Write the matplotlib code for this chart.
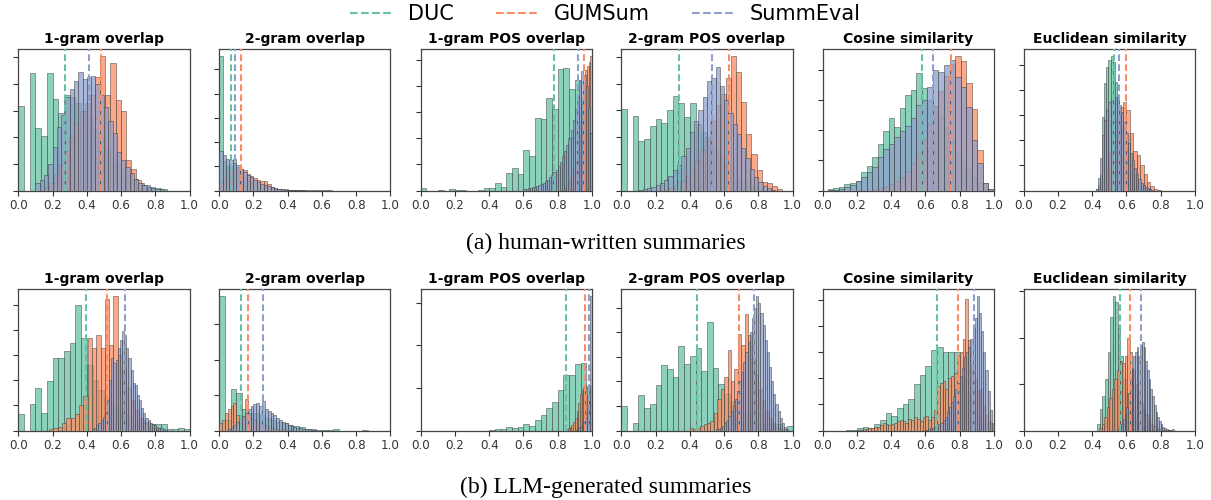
import matplotlib
matplotlib.use("Agg")
import matplotlib.pyplot as plt
from matplotlib.lines import Line2D
from matplotlib.ticker import MultipleLocator

# ---------------- data (bar heights in y-tick units) ----------------
titles = ["1-gram overlap", "2-gram overlap", "1-gram POS overlap",
          "2-gram POS overlap", "Cosine similarity", "Euclidean similarity"]
series_names = ["DUC", "GUMSum", "SummEval"]
row_captions = ["(a) human-written summaries", "(b) LLM-generated summaries"]
xtick_values = [0.0, 0.2, 0.4, 0.6, 0.8, 1.0]

# ---- human-written: (bin start, bin width, heights) ----
h_1g_duc_start, h_1g_duc_w = 0.0, 1 / 30
h_1g_duc = [3.17, 0, 4.41, 2.36, 2.04, 4.41, 3.43, 2.9, 3.6, 3.5, 3.3, 3.0, 2.7, 2.3, 2.0,
            1.6, 1.3, 1.0, 0.8, 0.6, 0.45, 0.3, 0.2, 0.15, 0.1, 0.05]
h_1g_gum_start, h_1g_gum_w = 0.148, 0.03
h_1g_gum = [0.1, 0.3, 0.6, 1.0, 1.5, 2.0, 2.5, 3.0, 3.3, 3.6, 4.26, 5.06, 3.6, 4.79, 3.4,
            3.0, 1.13, 0.8, 0.4, 0.2, 0.05]
h_1g_sum_start, h_1g_sum_w = 0.1, 0.025
h_1g_sum = [0.28, 0.38, 0.57, 1.0, 1.64, 2.4, 2.83, 3.5, 3.8, 4.1, 4.45, 4.2, 4.25, 4.3, 4.0,
            3.6, 3.15, 2.6, 2.15, 1.45, 1.15, 0.9, 0.65, 0.45, 0.3, 0.2, 0.15, 0.1, 0.06, 0.04]

h_2g_duc_start, h_2g_duc_w = 0.0, 0.02
h_2g_duc = [5.56, 1.2, 1.0, 1.0, 1.32, 0.9, 0.7, 0.55, 0.45, 0.35, 0.3, 0.22, 0.18, 0.14, 0.1,
            0.08, 0.06, 0.05, 0.04, 0.03, 0.03, 0.02, 0.02, 0.02, 0.01, 0.01, 0.01, 0.01, 0.01,
            0.01, 0.01, 0.01, 0.01]
h_2g_gum_start, h_2g_gum_w = 0.0, 0.02
h_2g_gum = [0.3, 0.55, 0.8, 0.95, 1.0, 0.95, 0.9, 0.85, 0.7, 0.6, 0.5, 0.45, 0.4, 0.38, 0.25,
            0.15, 0.1, 0.08, 0.06, 0.05, 0.04, 0.03, 0.02, 0.02, 0.01]
h_2g_sum_start, h_2g_sum_w = 0.0, 0.02
h_2g_sum = [1.64, 1.46, 1.32, 1.25, 1.14, 1.04, 0.9, 0.76, 0.62, 0.55, 0.44, 0.35, 0.28, 0.21,
            0.17, 0.13, 0.1, 0.07, 0.05, 0.04, 0.03, 0.02, 0.02, 0.01, 0.01]

h_1p_duc_start, h_1p_duc_w = 0.0, 1 / 30
h_1p_duc = [0.09, 0, 0, 0.03, 0, 0.04, 0.02, 0.02, 0, 0, 0.03, 0.1, 0.1, 0.3, 0.15, 0.67,
            0.86, 0.64, 1.54, 1.32, 2.78, 2.73, 3.55, 3.12, 4.65, 4.68, 3.88, 4.23, 3.5, 2.2]
h_1p_gum_start, h_1p_gum_w = 0.82, 0.01
h_1p_gum = [0.05, 0.1, 0.15, 0.2, 0.3, 0.45, 0.6, 0.8, 1.1, 1.5, 2.0, 2.6, 3.3, 4.0, 4.6,
            4.74, 4.9, 5.15]
h_1p_sum_start, h_1p_sum_w = 0.6, 0.0125
h_1p_sum = [0.05, 0.05, 0.08, 0.1, 0.12, 0.15, 0.18, 0.2, 0.25, 0.3, 0.35, 0.4, 0.5, 0.6, 0.7,
            0.8, 0.95, 1.1, 1.3, 1.5, 1.75, 2.0, 2.3, 2.7, 3.1, 3.6, 4.2, 4.58, 4.4, 4.0, 3.2, 2.2]

h_2p_duc_start, h_2p_duc_w = 0.0, 1 / 30
h_2p_duc = [3.04, 0, 2.78, 1.84, 1.92, 2.43, 2.68, 2.53, 3.0, 3.54, 3.27, 2.76, 3.27, 2.5, 2.2,
            1.9, 1.6, 1.3, 1.0, 0.75, 0.5, 0.35, 0.2, 0.12, 0.07, 0.03, 0.02]
h_2p_gum_start, h_2p_gum_w = 0.25, 0.03
h_2p_gum = [0.05, 0.1, 0.2, 0.35, 0.55, 0.8, 1.1, 1.5, 2.0, 2.6, 3.2, 3.6, 4.2, 5.05, 4.45,
            3.3, 2.1, 1.35, 0.76, 0.32, 0.28, 0.15, 0.05]
h_2p_sum_start, h_2p_sum_w = 0.1, 0.025
h_2p_sum = [0.03, 0.05, 0.08, 0.12, 0.2, 0.28, 0.4, 0.55, 0.75, 0.95, 1.3, 1.6, 2.2, 2.6, 3.0,
            3.5, 4.1, 4.2, 4.62, 3.9, 3.4, 2.9, 2.5, 2.1, 1.6, 1.2, 0.8, 0.5, 0.3, 0.15, 0.08, 0.03]

h_cos_duc_start, h_cos_duc_w = 0.03, 0.0323
h_cos_duc = [0.04, 0.07, 0.1, 0.2, 0.24, 0.3, 0.61, 0.8, 1.1, 1.55, 1.98, 2.42, 2.1, 2.75, 3.17,
             3.35, 3.91, 3.39, 3.0, 2.8, 2.5, 2.1, 1.7, 1.3, 1.0, 0.7, 0.45, 0.25, 0.1, 0.04]
h_cos_gum_start, h_cos_gum_w = 0.03, 0.0323
h_cos_gum = [0, 0, 0, 0, 0, 0, 0, 0, 0.05, 0.08, 0.12, 0.2, 0.3, 0.45, 0.65, 0.9, 1.25, 1.7,
             2.2, 2.8, 3.3, 3.8, 4.2, 4.47, 4.3, 3.56, 2.7, 1.35, 0.25, 0.03]
h_cos_sum_start, h_cos_sum_w = 0.03, 0.0323
h_cos_sum = [0.02, 0.03, 0.05, 0.1, 0.18, 0.3, 0.45, 0.6, 0.78, 1.1, 1.36, 1.55, 1.78, 1.98,
             2.13, 2.42, 2.83, 3.0, 3.44, 4.0, 3.94, 4.17, 4.33, 3.78, 3.42, 2.78, 1.67, 0.91,
             0.24, 0.05]

h_euc_duc_start, h_euc_duc_w = 0.42, 0.0125
h_euc_duc = [0.05, 0.2, 0.6, 2.9, 4.27, 4.9, 5.2, 5.35, 5.1, 4.3, 3.7, 3.0, 2.5, 2.1, 1.7, 1.35,
             1.05, 0.8, 0.6, 0.45, 0.32, 0.22, 0.15, 0.1, 0.06, 0.04]
h_euc_gum_start, h_euc_gum_w = 0.44, 0.02
h_euc_gum = [0.1, 0.4, 0.9, 1.5, 2.1, 2.8, 3.3, 3.5, 3.2, 2.28, 1.55, 1.41, 1.0, 0.67, 0.33,
             0.16, 0.06, 0.02]
h_euc_sum_start, h_euc_sum_w = 0.42, 0.0125
h_euc_sum = [0.05, 0.5, 1.3, 2.2, 2.8, 3.2, 3.5, 3.6, 3.65, 3.7, 3.6, 3.4, 3.1, 2.7, 2.3, 1.9,
             1.5, 1.2, 0.9, 0.65, 0.45, 0.3, 0.2, 0.12, 0.08, 0.05, 0.03]

# ---- LLM-generated ----
l_1g_duc_start, l_1g_duc_w = 0.0, 1 / 30
l_1g_duc = [0.64, 0, 1.07, 1.68, 0.71, 1.97, 2.87, 2.87, 3.15, 3.47, 5.01, 3.67, 2.6, 2.0, 1.6,
            1.3, 1.0, 0.8, 0.7, 0.6, 0.45, 0.45, 0.35, 0.27, 0.27, 0.25, 0.05, 0.05, 0.08, 0.07]
l_1g_gum_start, l_1g_gum_w = 0.18, 0.025
l_1g_gum = [0.05, 0.1, 0.15, 0.3, 0.5, 0.5, 0.65, 1.0, 1.37, 3.67, 3.3, 3.8, 3.3, 5.24, 3.4,
            5.37, 3.0, 2.4, 1.7, 1.2, 0.8, 0.5, 0.3, 0.15, 0.08, 0.04]
l_1g_sum_start, l_1g_sum_w = 0.43, 0.0125
l_1g_sum = [0.05, 0.1, 0.2, 0.3, 0.4, 0.55, 0.7, 1.2, 2.0, 2.9, 2.7, 2.8, 3.3, 3.6, 3.97, 3.8,
            3.3, 2.9, 2.4, 1.9, 1.8, 1.4, 1.2, 0.9, 0.7, 0.5, 0.4, 0.3, 0.25, 0.2, 0.15, 0.1,
            0.08, 0.05, 0.03]

l_2g_duc_start, l_2g_duc_w = 0.0, 1 / 30
l_2g_duc = [3.8, 0.3, 1.16, 1.07, 0.6, 0.5, 0.5, 0.45, 0.35, 0.3, 0.25, 0.2, 0.15, 0.12, 0.1,
            0.05, 0.03, 0.02, 0.01, 0.01, 0.03, 0, 0, 0, 0, 0.02]
l_2g_gum_start, l_2g_gum_w = 0.0, 1 / 60
l_2g_gum = [0.22, 0.3, 0.5, 0.6, 0.7, 0.78, 0.45, 0.2, 0.35, 0.88, 0.5, 0.35, 0.3, 0.25, 0.2,
            0.15, 0.15, 0.1, 0.08, 0.06, 0.05, 0.04, 0.03, 0.02, 0.02]
l_2g_sum_start, l_2g_sum_w = 0.05, 1 / 60
l_2g_sum = [0.05, 0.1, 0.15, 0.25, 0.3, 0.4, 0.5, 0.6, 0.7, 0.75, 0.78, 0.7, 0.83, 0.6, 0.55,
            0.5, 0.45, 0.35, 0.3, 0.25, 0.2, 0.15, 0.12, 0.1, 0.08, 0.06, 0.05, 0.04, 0.03,
            0.02, 0.02]

l_1p_duc_start, l_1p_duc_w = 0.0, 1 / 30
l_1p_duc = [0, 0, 0, 0, 0, 0, 0, 0, 0, 0, 0, 0, 0.02, 0.03, 0.03, 0.08, 0.06, 0.09, 0.16, 0.1,
            0.24, 0.36, 0.52, 0.67, 0.96, 1.31, 1.31, 1.55, 1.59, 1.04]
l_1p_gum_start, l_1p_gum_w = 0.85, 0.01
l_1p_gum = [0.03, 0.05, 0.08, 0.12, 0.2, 0.3, 0.45, 0.65, 0.85, 0.95, 1.03, 1.0, 0.8, 0.7, 0.4]
l_1p_sum_start, l_1p_sum_w = 0.9, 0.01
l_1p_sum = [0.02, 0.03, 0.05, 0.08, 0.12, 0.2, 0.3, 0.5, 1.0, 3.16]

l_2p_duc_start, l_2p_duc_w = 0.0, 1 / 30
l_2p_duc = [1.02, 0, 0.29, 1.45, 0.93, 1.07, 1.84, 2.66, 2.53, 2.2, 3.46, 2.7, 3.05, 3.36, 2.43,
            4.41, 2.57, 1.9, 1.5, 1.2, 1.0, 0.7, 0.5, 0.5, 0.3, 0.25, 0.25, 0.25, 0.05, 0.2]
l_2p_gum_start, l_2p_gum_w = 0.4, 0.02
l_2p_gum = [0.1, 0.05, 0.1, 0.2, 0.25, 0.3, 0.4, 0.7, 1.27, 1.7, 2.2, 3.3, 2.0, 2.5, 3.93, 3.5,
            4.75, 3.9, 2.9, 2.3, 1.7, 1.2, 0.8, 0.5, 0.3, 0.1]
l_2p_sum_start, l_2p_sum_w = 0.55, 0.0125
l_2p_sum = [0.05, 0.08, 0.12, 0.2, 0.3, 0.4, 0.6, 0.8, 1.0, 1.3, 1.6, 2.0, 2.4, 2.8, 3.2, 3.6,
            4.0, 4.6, 5.0, 5.5, 5.2, 4.8, 4.3, 3.7, 3.2, 2.6, 2.0, 1.5, 1.1, 0.8, 0.5, 0.3, 0.15,
            0.05]

l_cos_duc_start, l_cos_duc_w = 0.0, 1 / 30
l_cos_duc = [0, 0, 0, 0, 0.03, 0.03, 0.1, 0.14, 0.1, 0.23, 0.42, 0.65, 0.57, 0.87, 1.03, 1.22,
             1.79, 2.14, 2.46, 3.09, 3.18, 3.0, 3.0, 3.0, 2.0, 1.3, 0.8, 0.5, 0.25, 0.25]
l_cos_gum_start, l_cos_gum_w = 0.2, 1 / 60
l_cos_gum = [0.03, 0.03, 0.05, 0.05, 0.08, 0.1, 0.12, 0.15, 0.2, 0.3, 0.25, 0.2, 0.25, 0.3,
             0.35, 0.42, 0.38, 0.3, 0.45, 0.4, 0.5, 0.45, 0.35, 0.5, 0.55, 0.4, 0.5, 0.8, 1.7,
             1.8, 1.9, 1.6, 2.0, 2.1, 2.2, 2.9, 3.0, 3.5, 5.02, 3.47, 2.5, 1.95, 1.5, 1.6, 0.92,
             0.6, 0.35, 0.1]
l_cos_sum_start, l_cos_sum_w = 0.6, 0.0125
l_cos_sum = [0.03, 0.05, 0.08, 0.1, 0.15, 0.2, 0.25, 0.3, 0.4, 0.5, 0.7, 0.9, 1.1, 1.3, 1.6,
             1.8, 2.1, 2.4, 2.8, 3.0, 3.2, 3.5, 3.9, 4.3, 5.15, 4.5, 3.8, 3.0, 2.3, 1.5, 0.8, 0.3]

l_euc_duc_start, l_euc_duc_w = 0.43, 0.015
l_euc_duc = [0.15, 0.47, 0.75, 1.1, 1.7, 2.45, 2.9, 2.77, 2.2, 1.6, 1.1, 0.8, 0.55, 0.4, 0.3,
             0.2, 0.12, 0.08, 0.05, 0.03, 0.02, 0.01, 0.01, 0.01, 0.01, 0.01, 0.01, 0.01, 0.02,
             0.03]
l_euc_gum_start, l_euc_gum_w = 0.44, 0.015
l_euc_gum = [0.05, 0.15, 0.3, 0.5, 0.7, 0.9, 1.1, 1.3, 1.5, 1.45, 1.6, 2.0, 1.7, 1.3, 1.0, 0.8,
             0.6, 0.45, 0.35, 0.25, 0.15, 0.1, 0.06, 0.04, 0.03, 0.02, 0.02, 0.01]
l_euc_sum_start, l_euc_sum_w = 0.55, 0.01
l_euc_sum = [0.05, 0.1, 0.15, 0.25, 0.35, 0.5, 0.8, 1.1, 1.35, 1.6, 1.7, 1.8, 1.6, 1.85, 1.9,
             1.8, 1.5, 1.3, 1.1, 0.9, 0.75, 0.55, 0.4, 0.3, 0.2, 0.13, 0.08, 0.05, 0.03, 0.02]

# mean values (dashed lines)
human_mean_duc = [0.27, 0.07, 0.78, 0.335, 0.58, 0.53]
human_mean_gum = [0.48, 0.125, 0.955, 0.63, 0.75, 0.595]
human_mean_sum = [0.41, 0.095, 0.92, 0.53, 0.645, 0.555]
llm_mean_duc = [0.395, 0.13, 0.85, 0.44, 0.665, 0.56]
llm_mean_gum = [0.52, 0.17, 0.96, 0.685, 0.79, 0.62]
llm_mean_sum = [0.62, 0.255, 0.985, 0.775, 0.885, 0.685]

# ---------------- assemble ----------------
human = [
    [(h_1g_duc_start, h_1g_duc_w, h_1g_duc), (h_1g_gum_start, h_1g_gum_w, h_1g_gum), (h_1g_sum_start, h_1g_sum_w, h_1g_sum)],
    [(h_2g_duc_start, h_2g_duc_w, h_2g_duc), (h_2g_gum_start, h_2g_gum_w, h_2g_gum), (h_2g_sum_start, h_2g_sum_w, h_2g_sum)],
    [(h_1p_duc_start, h_1p_duc_w, h_1p_duc), (h_1p_gum_start, h_1p_gum_w, h_1p_gum), (h_1p_sum_start, h_1p_sum_w, h_1p_sum)],
    [(h_2p_duc_start, h_2p_duc_w, h_2p_duc), (h_2p_gum_start, h_2p_gum_w, h_2p_gum), (h_2p_sum_start, h_2p_sum_w, h_2p_sum)],
    [(h_cos_duc_start, h_cos_duc_w, h_cos_duc), (h_cos_gum_start, h_cos_gum_w, h_cos_gum), (h_cos_sum_start, h_cos_sum_w, h_cos_sum)],
    [(h_euc_duc_start, h_euc_duc_w, h_euc_duc), (h_euc_gum_start, h_euc_gum_w, h_euc_gum), (h_euc_sum_start, h_euc_sum_w, h_euc_sum)],
]
llm = [
    [(l_1g_duc_start, l_1g_duc_w, l_1g_duc), (l_1g_gum_start, l_1g_gum_w, l_1g_gum), (l_1g_sum_start, l_1g_sum_w, l_1g_sum)],
    [(l_2g_duc_start, l_2g_duc_w, l_2g_duc), (l_2g_gum_start, l_2g_gum_w, l_2g_gum), (l_2g_sum_start, l_2g_sum_w, l_2g_sum)],
    [(l_1p_duc_start, l_1p_duc_w, l_1p_duc), (l_1p_gum_start, l_1p_gum_w, l_1p_gum), (l_1p_sum_start, l_1p_sum_w, l_1p_sum)],
    [(l_2p_duc_start, l_2p_duc_w, l_2p_duc), (l_2p_gum_start, l_2p_gum_w, l_2p_gum), (l_2p_sum_start, l_2p_sum_w, l_2p_sum)],
    [(l_cos_duc_start, l_cos_duc_w, l_cos_duc), (l_cos_gum_start, l_cos_gum_w, l_cos_gum), (l_cos_sum_start, l_cos_sum_w, l_cos_sum)],
    [(l_euc_duc_start, l_euc_duc_w, l_euc_duc), (l_euc_gum_start, l_euc_gum_w, l_euc_gum), (l_euc_sum_start, l_euc_sum_w, l_euc_sum)],
]
rows = [
    (human, [human_mean_duc, human_mean_gum, human_mean_sum]),
    (llm, [llm_mean_duc, llm_mean_gum, llm_mean_sum]),
]

colors = ["#66c2a5", "#fc8d62", "#8da0cb"]

W, H = 1211, 500
fig = plt.figure(figsize=(W / 100, H / 100), dpi=100)

lefts_px = [18.3, 219.2, 420.7, 621.3, 822.7, 1023.7]
ax_w_px = 171.3
row_top_px = [49, 289]
ax_h_px = 141.5

for r, (panels, means) in enumerate(rows):
    for c in range(6):
        ax = fig.add_axes([lefts_px[c] / W, 1 - (row_top_px[r] + ax_h_px) / H,
                           ax_w_px / W, ax_h_px / H])
        for s in range(3):
            start, width, heights = panels[c][s]
            lefts = [start + i * width for i in range(len(heights))]
            ax.bar(lefts, heights, width=width, align="edge", color=colors[s],
                   alpha=0.75, edgecolor="#3a3a3a", linewidth=0.45, zorder=2 + s)
        for s in range(3):
            ax.axvline(means[s][c], color=colors[s], linestyle=(0, (3.2, 1.6)),
                       linewidth=1.5, zorder=6)
        ax.set_xlim(0, 1)
        ax.set_xticks(xtick_values)
        ax.set_xticklabels([f"{v:.1f}" for v in xtick_values], fontsize=8.6, color="#333333")
        ax.yaxis.set_major_locator(MultipleLocator(1))
        ax.tick_params(axis="y", labelleft=False, length=3.5, width=0.8, color="#333333")
        ax.tick_params(axis="x", length=3.5, width=0.8, color="#333333", pad=2.5)
        for sp in ax.spines.values():
            sp.set_color("#444444")
            sp.set_linewidth(0.9)
        ax.set_title(titles[c], fontsize=10, fontweight="bold", pad=4)

fig.text(0.5, 1 - 243 / H, row_captions[0], ha="center", va="center",
         fontsize=17, family="Liberation Serif")
fig.text(0.5, 1 - 487 / H, row_captions[1], ha="center", va="center",
         fontsize=17, family="Liberation Serif")

handles = [Line2D([0], [0], color=colors[s], linestyle="--", linewidth=1.5)
           for s in range(3)]
fig.legend(handles, series_names, loc="center", bbox_to_anchor=(0.5, 1 - 14 / H),
           ncol=3, frameon=False, fontsize=15, handlelength=2.0, columnspacing=2.0,
           handletextpad=0.8, borderpad=0)

fig.savefig("out.png", dpi=100)
